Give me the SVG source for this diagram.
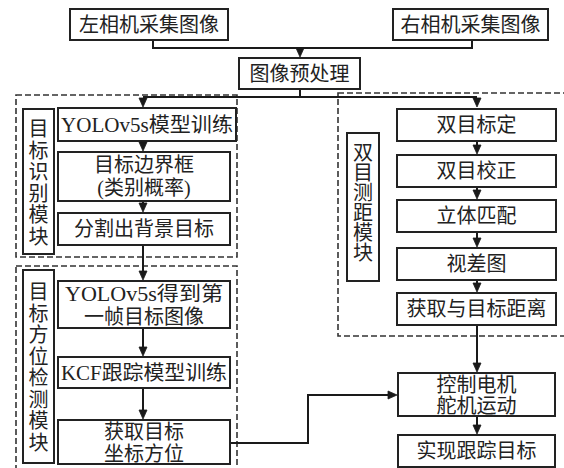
<svg xmlns="http://www.w3.org/2000/svg" width="564" height="468" viewBox="0 0 564 468">
<defs>
<style>
.box{fill:#fff;stroke:#222;stroke-width:2}
.dash{fill:none;stroke:#333;stroke-width:1.6;stroke-dasharray:6,3}
.ln{fill:none;stroke:#1a1a1a;stroke-width:2}
.ah{fill:#1a1a1a;stroke:#1a1a1a;stroke-width:0.8}
text{font-family:"Liberation Serif","Noto Sans CJK SC",serif;font-size:20px;fill:#222;text-anchor:middle}
</style>
</defs>
<rect width="564" height="468" fill="#fff"/>
<g id="modules">
<rect class="dash" x="16" y="95" width="221" height="162"/>
<rect class="dash" x="16" y="266" width="221" height="210"/>
<rect class="dash" x="338" y="93" width="240" height="243"/>
</g>
<g id="left-cam"><rect class="box" x="70" y="9" width="158" height="31"/><text x="149" y="32">左相机采集图像</text></g>
<g id="right-cam"><rect class="box" x="393" y="9" width="155" height="31"/><text x="470.5" y="32">右相机采集图像</text></g>
<g id="preprocess"><rect class="box" x="239" y="58" width="121" height="31"/><text x="299.5" y="81">图像预处理</text></g>
<g id="label-detect"><rect class="box" x="23" y="109" width="31" height="145"/><text x="38.5"><tspan x="38.5" y="136">目</tspan><tspan x="38.5" y="157.5">标</tspan><tspan x="38.5" y="179">识</tspan><tspan x="38.5" y="200.5">别</tspan><tspan x="38.5" y="222">模</tspan><tspan x="38.5" y="243.5">块</tspan></text></g>
<g id="yolo-train"><rect class="box" x="58" y="108" width="178" height="33"/><text x="147" y="131.5" font-size="19" textLength="172" lengthAdjust="spacingAndGlyphs">YOLOv5s模型训练</text></g>
<g id="bbox"><rect class="box" x="58" y="152" width="172" height="49"/><text x="144" y="172">目标边界框</text><text x="144" y="195">(类别概率)</text></g>
<g id="segment"><rect class="box" x="58" y="213" width="172" height="32"/><text x="144" y="236">分割出背景目标</text></g>
<g id="label-locate"><rect class="box" x="23" y="270" width="31" height="193"/><text x="38.5"><tspan x="38.5" y="299">目</tspan><tspan x="38.5" y="320.5">标</tspan><tspan x="38.5" y="342">方</tspan><tspan x="38.5" y="363.5">位</tspan><tspan x="38.5" y="385">检</tspan><tspan x="38.5" y="406.5">测</tspan><tspan x="38.5" y="428">模</tspan><tspan x="38.5" y="449.5">块</tspan></text></g>
<g id="yolo-first"><rect class="box" x="58" y="281" width="172" height="47"/><text x="144" y="301" textLength="158" lengthAdjust="spacingAndGlyphs">YOLOv5s得到第</text><text x="144" y="324">一帧目标图像</text></g>
<g id="kcf"><rect class="box" x="58" y="357" width="172" height="31"/><text x="144" y="380" textLength="166" lengthAdjust="spacingAndGlyphs">KCF跟踪模型训练</text></g>
<g id="get-coord"><rect class="box" x="58" y="420" width="172" height="44"/><text x="144" y="439">获取目标</text><text x="144" y="461">坐标方位</text></g>
<g id="label-range"><rect class="box" x="347" y="133" width="32" height="148"/><text x="363"><tspan x="363" y="160">双</tspan><tspan x="363" y="180">目</tspan><tspan x="363" y="200">测</tspan><tspan x="363" y="220">距</tspan><tspan x="363" y="240">模</tspan><tspan x="363" y="260">块</tspan></text></g>
<g id="calib"><rect class="box" x="397" y="109" width="159" height="32"/><text x="476.5" y="132">双目标定</text></g>
<g id="rectify"><rect class="box" x="397" y="155" width="159" height="32"/><text x="476.5" y="178">双目校正</text></g>
<g id="match"><rect class="box" x="397" y="200" width="159" height="32"/><text x="476.5" y="223">立体匹配</text></g>
<g id="disparity"><rect class="box" x="397" y="248" width="159" height="32"/><text x="476.5" y="271">视差图</text></g>
<g id="distance"><rect class="box" x="397" y="293" width="159" height="32"/><text x="476.5" y="316">获取与目标距离</text></g>
<g id="motor"><rect class="box" x="398" y="373" width="157" height="43"/><text x="476.5" y="392">控制电机</text><text x="476.5" y="413">舵机运动</text></g>
<g id="track"><rect class="box" x="398" y="435" width="157" height="32"/><text x="476.5" y="458">实现跟踪目标</text></g>
<g id="connectors">
<path class="ln" d="M153,41 V48 H472 V41"/>
<path class="ln" d="M300,48 V52"/>
<path class="ln" d="M300,90 V97 M143,97 H477"/>
<path class="ln" d="M143,142 V146"/>
<path class="ln" d="M143,202 V207"/>
<path class="ln" d="M143,246 V275"/>
<path class="ln" d="M143,329 V351"/>
<path class="ln" d="M143,389 V414"/>
<path class="ln" d="M231,443 H308 V395 H392"/>
<path class="ln" d="M477,142 V149"/>
<path class="ln" d="M477,188 V194"/>
<path class="ln" d="M477,233 V242"/>
<path class="ln" d="M477,281 V287"/>
<path class="ln" d="M477,326 V367"/>
<path class="ln" d="M477,417 V429"/>
<path class="ah" d="M296,48 H304 L300,57 Z"/>
<path class="ah" d="M139,98 H147 L143,107 Z"/>
<path class="ah" d="M473,98 H481 L477,107 Z"/>
<path class="ah" d="M139,142 H147 L143,151 Z"/>
<path class="ah" d="M139,203 H147 L143,212 Z"/>
<path class="ah" d="M139,271 H147 L143,280 Z"/>
<path class="ah" d="M139,347 H147 L143,356 Z"/>
<path class="ah" d="M139,410 H147 L143,419 Z"/>
<path class="ah" d="M388,391 V399 L397,395 Z"/>
<path class="ah" d="M473,145 H481 L477,154 Z"/>
<path class="ah" d="M473,190 H481 L477,199 Z"/>
<path class="ah" d="M473,238 H481 L477,247 Z"/>
<path class="ah" d="M473,283 H481 L477,292 Z"/>
<path class="ah" d="M473,363 H481 L477,372 Z"/>
<path class="ah" d="M473,425 H481 L477,434 Z"/>
</g>
</svg>
